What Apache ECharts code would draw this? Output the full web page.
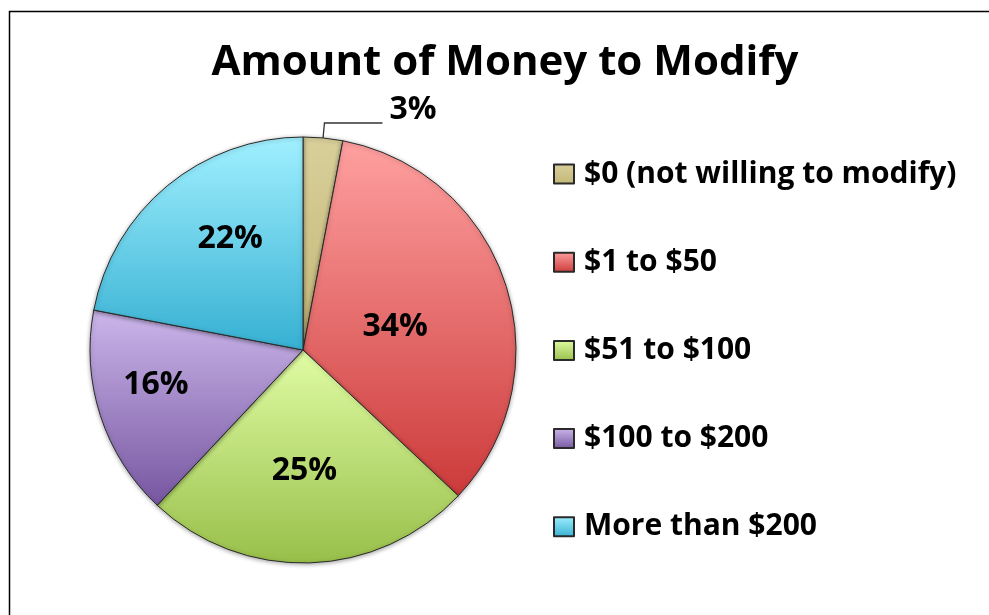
<!DOCTYPE html>
<html>
<head>
<meta charset="utf-8">
<script src="https://cdn.jsdelivr.net/npm/echarts@6/dist/echarts.min.js"></script>
<style>html,body{margin:0;padding:0;background:#fff}#c{width:989px;height:615px}</style>
</head>
<body>
<div id="c"></div>
<script>
const titleText = 'Amount of Money to Modify';
const categories = ['$0 (not willing to modify)', '$1 to $50', '$51 to $100', '$100 to $200', 'More than $200'];
const values = [3, 34, 25, 16, 22];
const colorTop = ['#d8cf9a', '#ffa0a0', '#e0fca4', '#cbb6ea', '#a0f0ff'];
const colorBottom = ['#c3b677', '#cc3a3a', '#98bf4a', '#7656a0', '#36b0d2'];
// Excel "best fit" label nudges (label offsets only, not mark geometry)
const labelNudge = [[2, -13], [-12, 11], [-2, 11], [-43, 1], [-3, -27]];

const FONT = '"Open Sans", sans-serif';
const chart = echarts.init(document.getElementById('c'));
const grad = (i) => new echarts.graphic.LinearGradient(0, 0, 0, 1, [
  {offset: 0, color: colorTop[i]}, {offset: 1, color: colorBottom[i]}
]);
const data = categories.map((name, i) => {
  const item = {name: name, value: values[i], itemStyle: {color: grad(i)}};
  if (i === 0) {
    item.label = {position: 'outside', offset: labelNudge[i]};
    item.labelLine = {show: true, length: 15, length2: 58, lineStyle: {color: '#333', width: 1.3}};
  } else {
    item.label = {offset: labelNudge[i]};
  }
  return item;
});
chart.setOption({
  animation: false,
  backgroundColor: '#fff',
  graphic: [{
    type: 'rect', shape: {x: 9.5, y: 11.5, width: 1000, height: 700},
    style: {fill: 'none', stroke: '#000', lineWidth: 1.5}, silent: true, z: -1
  }],
  title: {
    text: titleText, left: 500, top: 37, textAlign: 'center',
    textStyle: {fontFamily: FONT, fontWeight: 'bold', fontSize: 42, color: '#000'}
  },
  legend: {
    orient: 'vertical', left: 553, top: 159, padding: 0,
    itemWidth: 20, itemHeight: 19, itemGap: 58.2,
    icon: 'rect',
    textStyle: {fontFamily: FONT, fontWeight: 'bold', fontSize: 30, color: '#000', padding: [0, 0, 0, 5]},
    data: categories
  },
  series: [{
    type: 'pie',
    center: [303, 350], radius: 213,
    startAngle: 90, clockwise: true,
    label: {
      show: true, position: 'inside', formatter: '{d}%',
      fontFamily: FONT, fontWeight: 'bold', fontSize: 32, color: '#000'
    },
    labelLine: {show: false},
    itemStyle: {borderColor: '#2a2a2a', borderWidth: 1, shadowBlur: 4, shadowColor: 'rgba(0,0,0,0.35)', shadowOffsetY: 1},
    emphasis: {disabled: true},
    data: data
  }]
});
</script>
</body>
</html>
